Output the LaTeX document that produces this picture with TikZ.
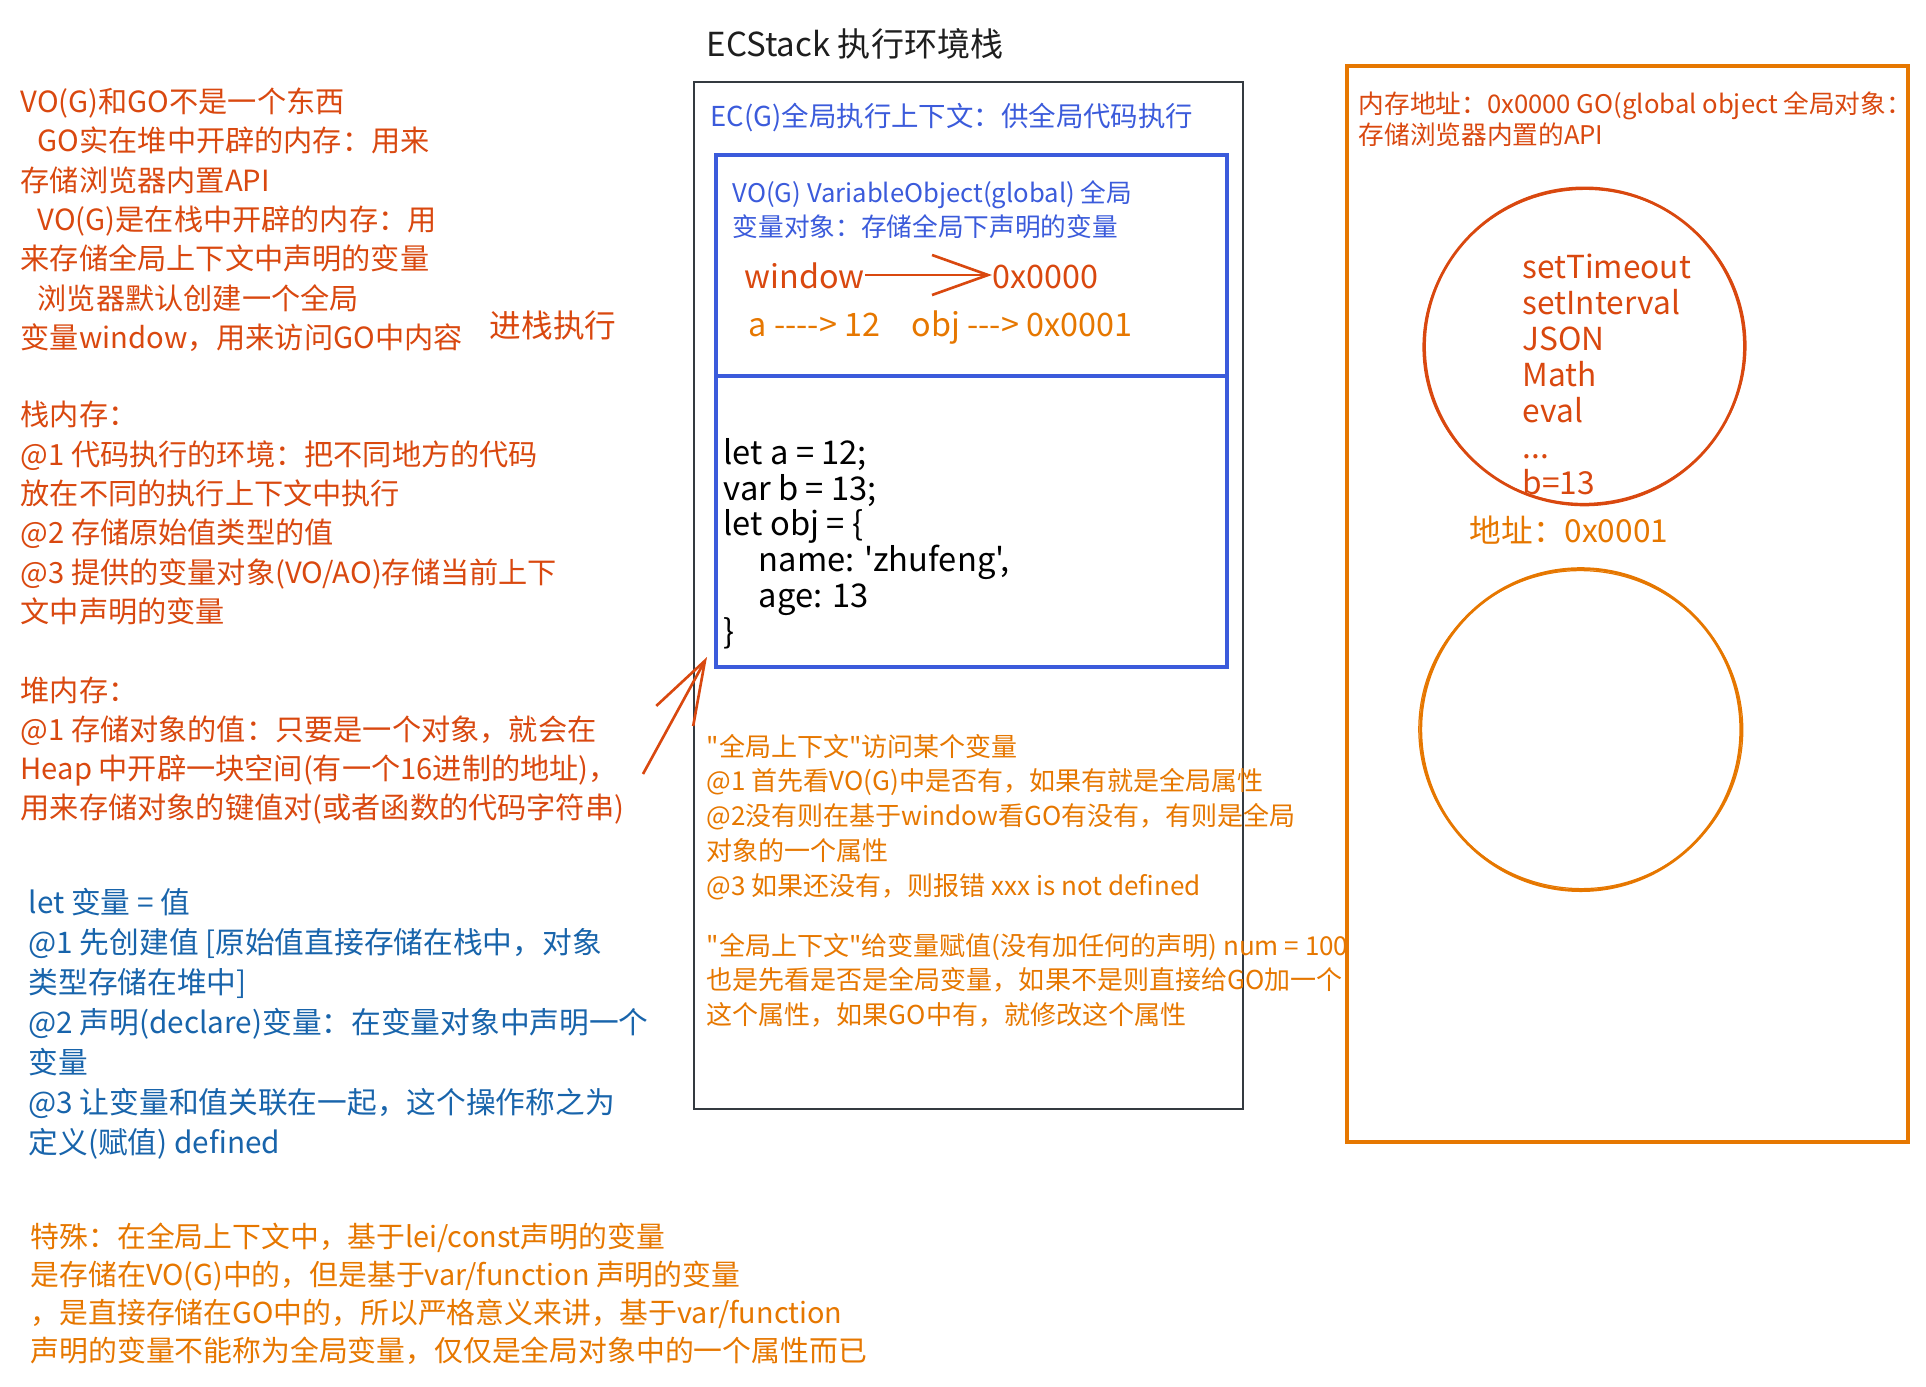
\documentclass[tikz,border=0pt]{standalone}
\usepackage{fontspec}
\newfontfamily\cjk{Noto Sans CJK SC}
\usetikzlibrary{arrows.meta,calc,positioning}
\definecolor{ink}{HTML}{1E1E1E}
\definecolor{stackgray}{HTML}{343A40}
\definecolor{rust}{HTML}{D9480F}
\definecolor{amber}{HTML}{E67700}
\definecolor{navy}{HTML}{1864AB}
\definecolor{indigo}{HTML}{3B5BDB}
\tikzset{
  txt/.style={anchor=west,inner sep=0pt,text height=.9em,text depth=.15em},
  leftnote/.style={txt,text=rust,font=\cjk\fontsize{8.3}{10}\selectfont},
  declnote/.style={txt,text=navy,font=\cjk\fontsize{8.45}{10}\selectfont},
  specialnote/.style={txt,text=amber,font=\cjk\fontsize{8.2}{10}\selectfont},
  stacktitle/.style={txt,text=ink,font=\cjk\fontsize{9.4}{11}\selectfont},
  ctxlabel/.style={txt,text=indigo,font=\cjk\fontsize{7.8}{10}\selectfont},
  volabel/.style={txt,text=indigo,font=\cjk\fontsize{7.3}{9}\selectfont},
  ptrtext/.style={txt,font=\cjk\fontsize{9.2}{11}\selectfont},
  codeline/.style={txt,text=black,font=\cjk\fontsize{9.3}{11}\selectfont},
  lookup/.style={txt,text=amber,font=\cjk\fontsize{7.4}{9}\selectfont},
  goheader/.style={txt,text=rust,font=\cjk\fontsize{7.3}{9}\selectfont},
  apiname/.style={txt,text=rust,font=\cjk\fontsize{9}{11}\selectfont},
  stackbox/.style={draw=stackgray,line width=.8pt},
  vobox/.style={draw=indigo,line width=.9pt},
  heapbox/.style={draw=amber,line width=1pt},
  ptrarrow/.style={draw=rust,line width=.75pt,-{Straight Barb[length=5.6mm,width=4mm]}},
}

\begin{document}
\begin{tikzpicture}[x=.01cm,y=-.01cm]
  % pixel grid of the sketch: x to the right, y downwards
  \useasboundingbox (0,0) rectangle (1926,1387);

  % Left column: notes on VO(G)/GO, stack and heap memory.
  \foreach \s [count=\i from 0] in {VO(G)和GO不是一个东西,
      \hspace{.17cm}GO实在堆中开辟的内存：用来, 存储浏览器内置API,
      \hspace{.17cm}VO(G)是在栈中开辟的内存：用, 来存储全局上下文中声明的变量,
      \hspace{.17cm}浏览器默认创建一个全局, 变量window，用来访问GO中内容}
    \node[leftnote] (vo-\i) at (20,{99.5+39.3*\i}) {\s};
  \node[leftnote,font=\cjk\fontsize{9}{11}\selectfont] (push) at (489,324) {进栈执行};
  \foreach \s [count=\i from 0] in {栈内存：, @1 代码执行的环境：把不同地方的代码,
      放在不同的执行上下文中执行, @2 存储原始值类型的值,
      @3 提供的变量对象(VO/AO)存储当前上下, 文中声明的变量}
    \node[leftnote] (stack-\i) at (20,{412.7+39.3*\i}) {\s};
  \foreach \s [count=\i from 0] in {堆内存：, @1 存储对象的值：只要是一个对象，就会在,
      Heap 中开辟一块空间(有一个16进制的地址)，, 用来存储对象的键值对(或者函数的代码字符串)}
    \node[leftnote] (heap-\i) at (20,{687.9+39.3*\i}) {\s};

  % declaration steps and the let/var remark
  \foreach \s [count=\i from 0] in {let 变量 = 值, @1 先创建值 [原始值直接存储在栈中，对象,
      类型存储在堆中], @2 声明(declare)变量：在变量对象中声明一个, 变量,
      @3 让变量和值关联在一起，这个操作称之为, 定义(赋值) defined}
    \node[declnote] (decl-\i) at (28,{900+40.1*\i}) {\s};
  \foreach \s [count=\i from 0] in {特殊：在全局上下文中，基于lei/const声明的变量,
      是存储在VO(G)中的，但是基于var/function 声明的变量,
      ，是直接存储在GO中的，所以严格意义来讲，基于var/function,
      声明的变量不能称为全局变量，仅仅是全局对象中的一个属性而已}
    \node[specialnote] (spec-\i) at (30,{1234+38.1*\i}) {\s};

  % ECStack with the global execution context and its VO(G)
  \node[stacktitle] (title) at (706,43) {ECStack 执行环境栈};
  \draw[stackbox] (694,82) rectangle (1243,1109);
  \node[ctxlabel] (ecg) at (710,113) {EC(G)全局执行上下文：供全局代码执行};
  \draw[vobox] (716,155) rectangle (1227,667);
  \draw[vobox] (716,376) -- (1227,376);
  \node[volabel] (vog-0) at (732,189) {VO(G) VariableObject(global) 全局};
  \node[volabel] (vog-1) at (732,223.5) {变量对象：存储全局下声明的变量};
  \node[ptrtext,text=rust] (win) at (744,275) {window};
  \node[ptrtext,text=rust] (addr0) at (992,275) {0x0000};
  \draw[ptrarrow] (win.east) -- (addr0.west);
  \node[ptrtext,text=amber] (ptr-a) at (748,323) {a ----> 12};
  \node[ptrtext,text=amber] (ptr-obj) at (911,323) {obj ---> 0x0001};
  \foreach \s [count=\i from 0] in {let a = 12;, var b = 13;, let obj = \{,
      {\hspace{.35cm}name: 'zhufeng',}, \hspace{.35cm}age: 13, \}}
    \node[codeline] (code-\i) at (723,{451+35.9*\i}) {\s};

  % how a variable is looked up / assigned in the global context
  \foreach \s [count=\i from 0] in {"全局上下文"访问某个变量,
      @1 首先看VO(G)中是否有，如果有就是全局属性,
      @2没有则在基于window看GO有没有，有则是全局, 对象的一个属性,
      @3 如果还没有，则报错 xxx is not defined}
    \node[lookup] (look-\i) at (706,{743+34.7*\i}) {\s};
  \foreach \s [count=\i from 0] in {"全局上下文"给变量赋值(没有加任何的声明) num = 100,
      也是先看是否是全局变量，如果不是则直接给GO加一个,
      这个属性，如果GO中有，就修改这个属性}
    \node[lookup] (assign-\i) at (706,{942+34.5*\i}) {\s};

  % heap note points at the code block
  \coordinate (heaptail) at (643,774);
  \coordinate (heaptip) at (707,657);
  \draw[ptrarrow,-{Straight Barb[length=6.3mm,width=4.2mm]}] (heaptail) -- (heaptip);

  % Heap: GO at 0x0000 and the object at 0x0001
  \draw[heapbox] (1347,66) rectangle (1908,1142);
  \node[goheader] (go-0) at (1358,100.7) {内存地址：0x0000 GO(global object 全局对象：};
  \node[goheader] (go-1) at (1358,131.4) {存储浏览器内置的API};
  \coordinate (go) at (1584.5,346.4);
  \draw[rust,line width=.8pt] (go) ellipse [x radius=160,y radius=158.5];
  \draw[rust,line width=.35pt] (go) ellipse [x radius=161.5,y radius=157,rotate=6];
  \foreach \s [count=\i from 0] in {setTimeout, setInterval, JSON, Math, eval}
    \node[apiname] (api-\i) at (1522,{265.3+36*\i}) {\s};
  \node[apiname] (api-dots) at (1522,445.3) {.{}.{}.};
  \node[apiname] (api-b) at (1522,481.3) {b=13};
  \node[ptrtext,text=amber,font=\cjk\fontsize{9}{11}\selectfont] (addr1) at (1469,529) {地址：0x0001};
  \coordinate (obj) at (1580.8,729.6);
  \draw[amber,line width=.8pt] (obj) ellipse [x radius=160,y radius=161];
  \draw[amber,line width=.35pt] (obj) ellipse [x radius=162,y radius=159,rotate=-5];
\end{tikzpicture}
\end{document}
